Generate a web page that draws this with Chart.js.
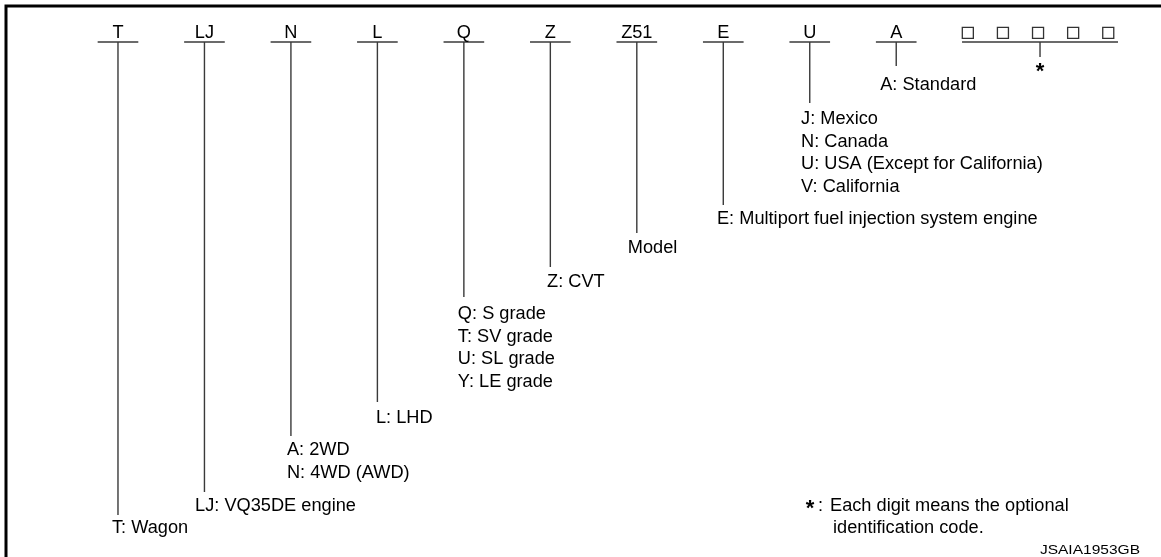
<!DOCTYPE html>
<html>
<head>
<meta charset="utf-8">
<script src="https://cdn.jsdelivr.net/npm/chart.js@4/dist/chart.umd.min.js"></script>
<style>
  html, body { margin: 0; padding: 0; background: #ffffff; }
  #wrap { width: 1161px; height: 557px; position: relative; }
</style>
</head>
<body>
<div id="wrap"><canvas id="c"></canvas></div>
<script>
// ---- data ----
const codes = ['T', 'LJ', 'N', 'L', 'Q', 'Z', 'Z51', 'E', 'U', 'A'];
const descriptions = [
  ['T: Wagon'],
  ['LJ: VQ35DE engine'],
  ['A: 2WD', 'N: 4WD (AWD)'],
  ['L: LHD'],
  ['Q: S grade', 'T: SV grade', 'U: SL grade', 'Y: LE grade'],
  ['Z: CVT'],
  ['Model'],
  ['E: Multiport fuel injection system engine'],
  ['J: Mexico', 'N: Canada', 'U: USA (Except for California)', 'V: California'],
  ['A: Standard']
];
// depth (from top) at which each leader ends, and baseline of its first description line
const leaderEnds = [515, 492, 436, 402, 297, 267, 233, 205, 103, 66];
const descBaselines = [533, 511, 455, 423, 319, 287, 253, 224, 124, 90];
const optionalDigits = ['□', '□', '□', '□', '□'];
const noteMark = '*';
const noteLines = ['Each digit means the optional', 'identification code.'];
const figureId = 'JSAIA1953GB';

// ---- layout (not data) ----
const RULE_Y = 42;
const CODE_BASE = 38;
const HALF_RULE = 0.235;
const DESC_SHIFT = [6, 9.4, 4, 1.4, 6, 3.3, 9, 6.3, 8.7, 16];
const LINE_GAP = 22.7;
const BOX_START = 9.828, BOX_STEP = 0.406, BOX_Y = 32.8;
const GROUP_L = 9.761, GROUP_R = 11.565, GROUP_MID = 10.663, GROUP_END = 57;
const X_MIN = -1.3644, X_MAX = 12.062;
const FONT = '"Liberation Sans", Arial, Helvetica, sans-serif';
const LINE_COLOR = '#3a3a3a';

const segs = [];
function seg(points) {
  segs.push({
    data: points, showLine: true, pointRadius: 0, borderColor: LINE_COLOR,
    borderWidth: 1.4, fill: false, tension: 0
  });
}
codes.forEach((c, i) => {
  seg([{x: i - HALF_RULE, y: RULE_Y}, {x: i + HALF_RULE, y: RULE_Y}]);
  seg([{x: i, y: RULE_Y}, {x: i, y: leaderEnds[i]}]);
});
seg([{x: GROUP_L, y: RULE_Y}, {x: GROUP_R, y: RULE_Y}]);
seg([{x: GROUP_MID, y: RULE_Y}, {x: GROUP_MID, y: GROUP_END}]);

const boxes = {
  data: optionalDigits.map((d, k) => ({x: BOX_START + k * BOX_STEP, y: BOX_Y})),
  showLine: false, pointStyle: 'rect', pointRadius: 7.8, pointHoverRadius: 7.8,
  pointBorderWidth: 1.3, borderColor: '#333', backgroundColor: '#ffffff',
  pointBackgroundColor: '#ffffff', pointBorderColor: '#333'
};

function txt(ctx, s, x, y, size, align, sx, bold) {
  ctx.save();
  ctx.font = (bold ? 'bold ' : '') + size + 'px ' + FONT;
  ctx.fillStyle = '#000';
  ctx.textBaseline = 'alphabetic';
  ctx.textAlign = align || 'left';
  ctx.translate(x, y);
  ctx.scale(sx || 1, 1);
  ctx.fillText(s, 0, 0);
  ctx.restore();
}

const framePlugin = {
  id: 'frame',
  beforeDatasetsDraw(chart) {
    const ctx = chart.ctx, a = chart.chartArea;
    ctx.save();
    ctx.strokeStyle = '#000';
    ctx.lineWidth = 3;
    ctx.beginPath();
    ctx.moveTo(a.left + 6, a.bottom);
    ctx.lineTo(a.left + 6, a.top + 6);
    ctx.lineTo(a.right, a.top + 6);
    ctx.stroke();
    ctx.restore();
  }
};

const textPlugin = {
  id: 'texts',
  afterDatasetsDraw(chart) {
    const ctx = chart.ctx, xs = chart.scales.x, ys = chart.scales.y;
    const F = 17.5, S = 1.04;
    codes.forEach((c, i) => {
      txt(ctx, c, xs.getPixelForValue(i), ys.getPixelForValue(CODE_BASE), F, 'center', S);
      descriptions[i].forEach((line, k) => {
        txt(ctx, line, xs.getPixelForValue(i) - DESC_SHIFT[i],
            ys.getPixelForValue(descBaselines[i] + k * LINE_GAP), F, 'left', S);
      });
    });
    txt(ctx, noteMark, xs.getPixelForValue(GROUP_MID), ys.getPixelForValue(78), 22, 'center', 1, true);
    txt(ctx, noteMark, 810, ys.getPixelForValue(515), 22, 'center', 1, true);
    txt(ctx, ':', 818, ys.getPixelForValue(511), F, 'left', S);
    txt(ctx, noteLines[0], 830, ys.getPixelForValue(511), F, 'left', S);
    txt(ctx, noteLines[1], 833, ys.getPixelForValue(533), F, 'left', S);
    txt(ctx, figureId, 1140, ys.getPixelForValue(554), 13.5, 'right', 1.15);
  }
};

new Chart(document.getElementById('c'), {
  type: 'scatter',
  data: { datasets: [...segs, boxes] },
  options: {
    responsive: true, maintainAspectRatio: false, animation: false,
    events: [],
    layout: { padding: 0, autoPadding: false },
    plugins: { legend: { display: false }, tooltip: { enabled: false } },
    scales: {
      x: { type: 'linear', display: false, min: X_MIN, max: X_MAX },
      y: { type: 'linear', display: false, min: 0, max: 557, reverse: true }
    }
  },
  plugins: [framePlugin, textPlugin]
});
</script>
</body>
</html>
